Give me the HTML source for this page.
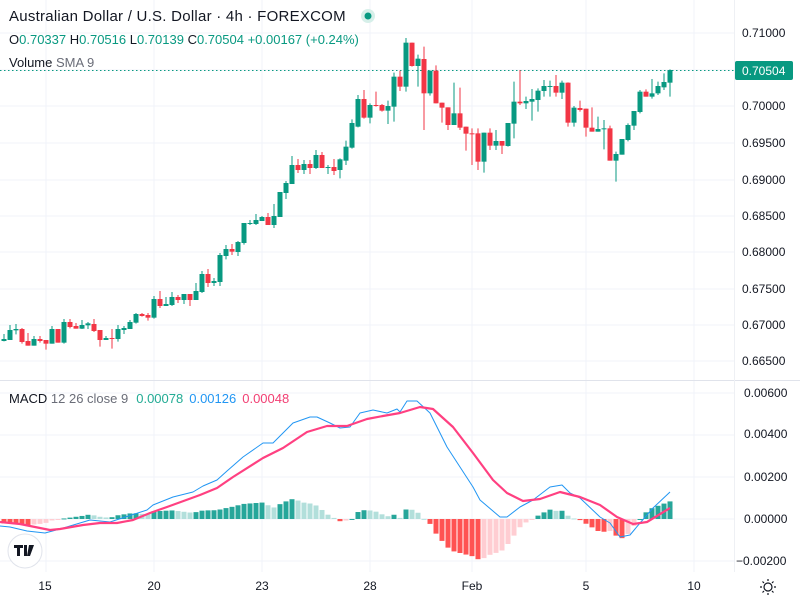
<!DOCTYPE html>
<html><head><meta charset="utf-8"><style>
body{margin:0;background:#fff;width:800px;height:600px;overflow:hidden;font-family:"Liberation Sans",sans-serif}
svg{display:block}
</style></head><body>
<svg id="s" width="800" height="600" xmlns="http://www.w3.org/2000/svg" font-family="Liberation Sans, sans-serif">
<g stroke="#f0f3fa" stroke-width="1">
<line x1="46" y1="0" x2="46" y2="572"/><line x1="154" y1="0" x2="154" y2="572"/><line x1="262" y1="0" x2="262" y2="572"/><line x1="370" y1="0" x2="370" y2="572"/><line x1="472" y1="0" x2="472" y2="572"/><line x1="586" y1="0" x2="586" y2="572"/><line x1="694" y1="0" x2="694" y2="572"/>
<line x1="0" y1="33" x2="734" y2="33"/><line x1="0" y1="70" x2="734" y2="70"/><line x1="0" y1="106" x2="734" y2="106"/><line x1="0" y1="143" x2="734" y2="143"/><line x1="0" y1="180" x2="734" y2="180"/><line x1="0" y1="216" x2="734" y2="216"/><line x1="0" y1="252" x2="734" y2="252"/><line x1="0" y1="289" x2="734" y2="289"/><line x1="0" y1="325" x2="734" y2="325"/><line x1="0" y1="361" x2="734" y2="361"/>
<line x1="0" y1="393" x2="734" y2="393"/><line x1="0" y1="435" x2="734" y2="435"/><line x1="0" y1="477" x2="734" y2="477"/><line x1="0" y1="519" x2="734" y2="519"/><line x1="0" y1="561" x2="734" y2="561"/>
</g>
<line x1="0" y1="380.5" x2="800" y2="380.5" stroke="#e0e3eb"/>
<line x1="734.5" y1="0" x2="734.5" y2="572" stroke="#eef0f4"/>
<line x1="0" y1="70.5" x2="734" y2="70.5" stroke="#089981" stroke-dasharray="1.5 2.5"/>
<g id="cd"></g>
<g id="mc"></g>
<g font-size="12" fill="#131722">
<text x="742" y="37">0.71000</text><text x="742" y="110">0.70000</text><text x="742" y="147">0.69500</text><text x="742" y="184">0.69000</text><text x="742" y="220">0.68500</text><text x="742" y="256">0.68000</text><text x="742" y="293">0.67500</text><text x="742" y="329">0.67000</text><text x="742" y="365">0.66500</text>
<text x="744" y="397">0.00600</text><text x="744" y="438">0.00400</text><text x="744" y="481">0.00200</text><text x="744" y="523">0.00000</text><text x="736" y="565">−0.00200</text>
<text x="45" y="590" text-anchor="middle">15</text><text x="154" y="590" text-anchor="middle">20</text><text x="262" y="590" text-anchor="middle">23</text><text x="370" y="590" text-anchor="middle">28</text><text x="472" y="590" text-anchor="middle">Feb</text><text x="586" y="590" text-anchor="middle">5</text><text x="694" y="590" text-anchor="middle">10</text>
</g>
<rect x="735" y="61" width="58" height="19" rx="2" fill="#089981"/>
<text x="742" y="75" font-size="12" fill="#fff">0.70504</text>
<text x="9" y="21" font-size="15" letter-spacing="0.25" fill="#131722">Australian Dollar / U.S. Dollar · 4h · FOREXCOM</text>
<circle cx="368" cy="16" r="7" fill="#d6efe9"/><circle cx="368" cy="16" r="3.5" fill="#089981"/>
<text x="9" y="44" font-size="13" fill="#131722">O<tspan fill="#089981">0.70337</tspan> H<tspan fill="#089981">0.70516</tspan> L<tspan fill="#089981">0.70139</tspan> C<tspan fill="#089981">0.70504 +0.00167 (+0.24%)</tspan></text>
<text x="9" y="67" font-size="13" fill="#131722">Volume <tspan fill="#6a6d78">SMA 9</tspan></text>
<text x="9" y="403" font-size="13" fill="#131722">MACD <tspan fill="#6a6d78">12 26 close 9</tspan><tspan fill="#22ab94" dx="8">0.00078</tspan><tspan fill="#2196f3" dx="6">0.00126</tspan><tspan fill="#f23f73" dx="6">0.00048</tspan></text>
<circle cx="25" cy="551" r="17" fill="#fff" stroke="#e0e3eb"/>
<path d="M14 545h9v3h-3v8h-3v-8h-3z M24 545h3v11h-3z M29 545h5l-4 11h-3z" fill="#131722"/>
<g stroke="#131722" fill="none" stroke-width="1.2"><circle cx="768" cy="587" r="4"/><path d="M768 579v2M768 593v2M760 587h2M774 587h2M762.5 581.5l1.5 1.5M772 591l1.5 1.5M762.5 592.5l1.5-1.5M772 583l1.5-1.5"/></g>
</svg>
<script>
var A="g597,603,582,604|g570,600,555,600|g567,571,552,583|r567,606,564,611|r603,617,579,617|g597,617,588,617|r597,603,588,608|r600,611,600,629|g567,611,558,611|r567,608,567,608|g546,608,537,611|r546,561,537,565|r558,566,549,566|g555,566,540,567|g550,556,546,567|r552,573,537,576|r570,600,570,620|g594,600,588,600|r594,596,567,626|g567,597,555,605|g564,570,558,582|g546,567,540,567|g522,548,519,551|r522,528,519,530|r525,533,519,542|g477,533,468,536|r477,498,453,504|g492,498,471,498|g471,495,456,498|r471,480,465,489|g462,480,462,492|r462,480,462,498|g453,480,429,480|g402,456,393,459|r402,429,387,441|g423,429,414,438|g345,426,339,438|g327,348,315,358|r327,335,312,345|g306,336,303,348|g249,309,249,314|g249,252,240,255|g240,252,222,255|g231,243,228,243|r231,255,219,255|g228,255,192,264|g156,231,156,231|g129,159,123,177|g75,132,48,132|r75,90,57,99|g72,90,60,102|r72,84,60,102|g45,84,30,87|r45,84,36,84|g81,83,75,102|r81,93,57,105";
var B="g388,420,385,445|g350,392,332,405|g279,353,268,356|g207,290,195,292|r207,263,180,266|g225,263,220,280|r225,227,185,230|r225,242,222,245|g228,242,212,282|g140,230,128,275|r140,170,122,183|g38,170,24,185|r38,108,38,110|g86,108,74,170|r87,190,50,300|g122,190,122,197|r122,220,106,220|r218,233,218,278|r232,285,232,300|g250,285,158,285|r250,293,173,300|r290,311,290,362|r310,312,295,405|r310,395,295,420|g308,395,308,428|r308,347,295,360|g333,347,300,360|r333,347,333,372|g279,348,279,350|g215,281,155,325|r215,220,120,225|g213,220,200,237|g207,215,177,272|g182,210,175,245|g168,183,150,200|g168,170,152,200|r168,188,135,200|g158,188,152,207|r158,278,157,290|g233,278,228,290|r234,240,212,245|r236,293,236,320|r293,305,232,305|g297,305,260,305|g295,298,270,358|r295,392,287,392|g372,392,365,455|g327,374,327,374|g285,330,280,334|g243,287,243,300|g185,246,180,250|r185,200,178,200|g190,200,147,206|g168,190,155,195|g156,172,130,180|g120,158,118,200";
var h="";var i=0;
function add(s,off){s.split("|").forEach(function(c){var t=c[0],v=c.slice(1).split(",").map(Number).map(function(z){return off+z/3});var x=4+6*i;var col=t=="g"?"#089981":"#f23645";
var bt=Math.min(v[0],v[1]),bb=Math.max(v[0],v[1]);var ht=Math.min(v[2],bt),hb=Math.max(v[3],bb);
h+='<line x1="'+x+'" y1="'+ht+'" x2="'+x+'" y2="'+hb+'" stroke="'+col+'"/>';
h+='<rect x="'+(x-2.5)+'" y="'+bt+'" width="5" height="'+Math.max(1,bb-bt)+'" fill="'+col+'"/>';i++;});}
add(A,140);add(B,30);
document.getElementById("cd").innerHTML=h;
var blue=[[0,526],[10,527],[27,531],[45,533],[60,529],[90,520],[110,522],[147,510],[153,505],[173,497],[193,492],[203,486],[217,480],[227,471],[243,457],[263,443],[273,443],[293,423],[310,417],[317,417],[330,423],[340,428],[350,427],[360,413],[373,410],[387,413],[397,409],[400,412],[407,401],[417,401],[430,413],[447,447],[460,467],[473,487],[480,500],[500,517],[507,517],[520,507],[533,500],[550,487],[562,485],[570,493],[580,498],[600,517],[610,523],[620,537],[630,535],[640,523],[653,508],[670,492]];
var red=[[0,522],[20,524],[50,530],[60,529],[83,525],[100,523],[117,523],[133,520],[150,513],[167,507],[200,495],[217,488],[233,477],[263,458],[283,448],[307,432],[327,426],[347,426],[367,419],[383,416],[400,413],[420,407],[433,409],[453,427],[473,453],[493,480],[507,493],[523,501],[540,499],[560,492],[580,497],[600,505],[617,517],[633,524],[647,522],[670,508]];
function at(a,x){for(var k=1;k<a.length;k++){if(x<=a[k][0]){var p=a[k-1],q=a[k];return p[1]+(q[1]-p[1])*(x-p[0])/(q[0]-p[0]);}}return a[a.length-1][1];}
var m="",prev=0;
for(var j=0;j<112;j++){var x=4+6*j;var d=(at(red,x)-at(blue,x))*1.1;var col;
if(d>=0)col=d>=prev?"#26a69a":"#b2dfdb";else col=d<=prev?"#ff5252":"#ffcdd2";
var y=d>=0?519-d:519;m+='<rect x="'+(x-2.5)+'" y="'+y+'" width="5" height="'+Math.max(1,Math.abs(d))+'" fill="'+col+'"/>';prev=d;}
function pl(a,c,w){return '<polyline fill="none" stroke="'+c+'" stroke-width="'+w+'" stroke-linejoin="round" points="'+a.map(function(p){return p.join(",")}).join(" ")+'"/>';}
m+=pl(blue,"#2196f3",1)+pl(red,"#ff4081",2.2);
document.getElementById("mc").innerHTML=m;
</script>
</body></html>
